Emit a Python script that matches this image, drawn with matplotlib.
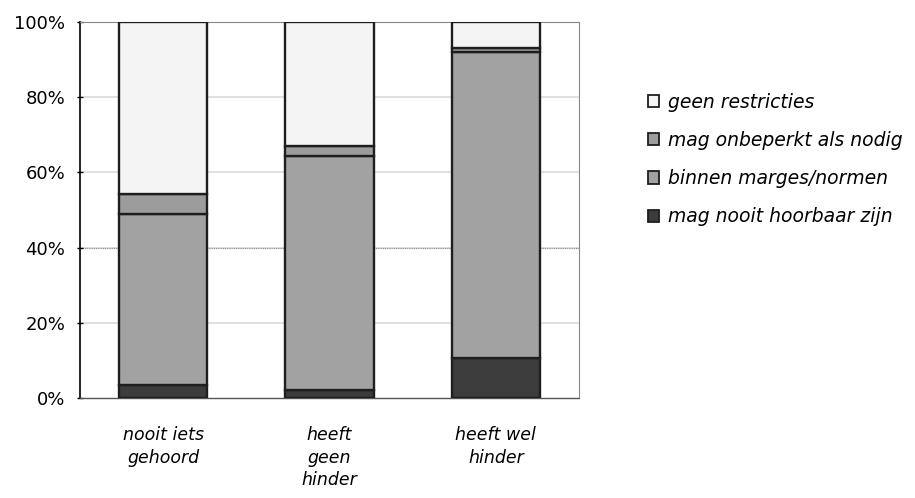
import matplotlib
matplotlib.use("Agg")
import matplotlib.pyplot as plt
import numpy as np
from matplotlib.patches import Patch

categories = ["nooit iets\ngehoord", "heeft\ngeen\nhinder", "heeft wel\nhinder"]
series_names = ["mag nooit hoorbaar zijn", "binnen marges/normen",
                "mag onbeperkt als nodig", "geen restricties"]
nooit = [3.5, 2.0, 10.6]
binnen = [45.4, 62.4, 81.4]
onbeperkt = [5.4, 2.6, 1.2]
geen = [45.7, 33.0, 6.8]
yticks = [0, 20, 40, 60, 80, 100]
ytick_labels = ["0%", "20%", "40%", "60%", "80%", "100%"]

colors = ["#3c3c3c", "#a2a2a2", "#9c9c9c", "#f4f4f4"]
edge = "#1e1e1e"

plt.rcParams['font.family'] = ['DejaVu Sans']

fig = plt.figure(figsize=(9.15, 4.98), dpi=100)
ax = fig.add_axes([80/915, 1-398/498, (579-80)/915, (398-22)/498])

x = np.arange(len(categories))
width = 0.53
bottom = np.zeros(len(categories))
handles = []
for vals, name, col in zip([nooit, binnen, onbeperkt, geen], series_names, colors):
    ax.bar(x, vals, width, bottom=bottom, color=col, edgecolor=edge,
           linewidth=1.7, zorder=3)
    bottom += np.array(vals)
    handles.append(Patch(facecolor=col, edgecolor=edge, linewidth=1.3, label=name))

ax.set_xlim(-0.5, 2.5)
ax.set_ylim(0, 100)
ax.set_yticks(yticks)
ax.set_yticklabels(ytick_labels, fontsize=13)
ax.set_xticks(x)
ax.set_xticklabels(categories, fontsize=12.5, style='italic', linespacing=1.34)
ax.tick_params(axis='x', length=0, pad=20)
ax.tick_params(axis='y', length=5, width=1, direction='inout', pad=8)

for yv in yticks[1:-1]:
    ax.axhline(yv, color="#dadada", linewidth=1.2, zorder=1)
ax.axhline(40, color="#8a8a8a", linewidth=0.8, linestyle=(0, (1, 1)), zorder=1)

ax.spines['left'].set_color('black')
ax.spines['left'].set_linewidth(1.2)
ax.spines['bottom'].set_color('#555555')
ax.spines['bottom'].set_linewidth(1.0)
ax.spines['bottom'].set_linestyle((0, (1, 1)))
for s in ['top', 'right']:
    ax.spines[s].set_color('#888888')
    ax.spines[s].set_linewidth(0.8)
    ax.spines[s].set_linestyle((0, (1, 1)))

leg = fig.legend(handles=handles[::-1], loc='upper left',
                 bbox_to_anchor=(640/915, 1-85/498), frameon=False,
                 prop={'size': 13.5, 'style': 'italic'},
                 handlelength=0.62, handleheight=0.62, handletextpad=0.5,
                 labelspacing=1.03, borderaxespad=0)

fig.savefig("out.png", dpi=100)
